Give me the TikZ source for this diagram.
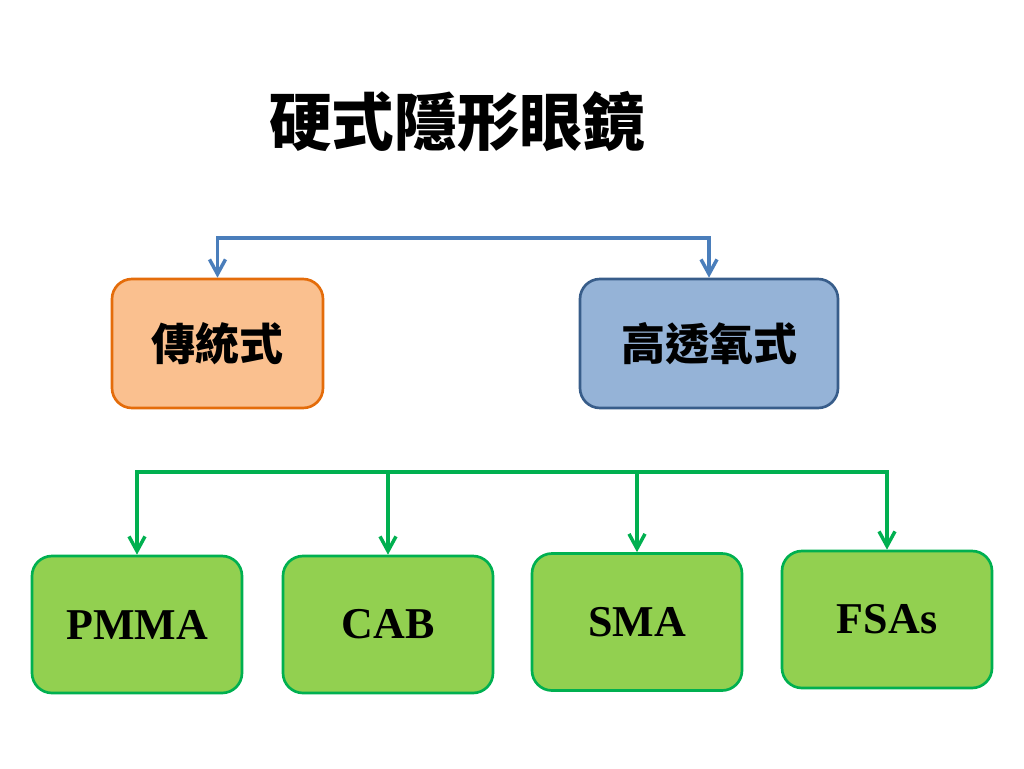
\documentclass[tikz,border=0pt]{standalone}
\usepackage{fontspec}
\setmainfont{Liberation Serif}
\newfontfamily\cjk{Noto Sans CJK TC}
\usetikzlibrary{arrows.meta}

\definecolor{linkblue}{RGB}{74,126,187}
\definecolor{tradfill}{RGB}{250,192,143}
\definecolor{tradline}{RGB}{228,108,10}
\definecolor{oxyfill}{RGB}{149,179,215}
\definecolor{oxyline}{RGB}{56,93,138}
\definecolor{matfill}{RGB}{146,208,80}
\definecolor{matline}{RGB}{0,176,80}

\tikzset{
  kindbox/.style={draw, rounded corners=15pt, line width=2pt, minimum height=96.75pt, inner sep=0pt, font=\cjk\fontsize{33}{33}\selectfont\bfseries},
  matbox/.style={draw=matline, fill=matfill, rounded corners=15pt, line width=2pt, minimum width=157.5pt, minimum height=102.75pt, inner sep=0pt, font=\fontsize{33}{33}\selectfont\bfseries},
  bluelink/.style={draw=linkblue, line width=2.6pt, -{Straight Barb[length=11pt, width=12pt, line width=2.6pt]}},
  greenlink/.style={draw=matline, line width=2.6pt, -{Straight Barb[length=11pt, width=12pt, line width=2.6pt]}}
}

\begin{document}
\begin{tikzpicture}[x=0.75pt,y=0.75pt,yscale=-1,xscale=1]
		%set diagram left start at 0, and has height of 768
		\useasboundingbox (0,0) rectangle (1024,768);
		
		% Text Node
		\node (title) at (457,122) [font=\cjk\fontsize{47}{47}\selectfont\bfseries] {硬式隱形眼鏡};
		
		%Shape: Rectangle [id:trad] 
		\node (trad) at (217.5,343.5) [kindbox, draw=tradline, fill=tradfill, minimum width=158.25pt] {\raisebox{-3pt}{傳統式}};
		%Shape: Rectangle [id:hioxy] 
		\node (hioxy) at (709,343.5) [kindbox, draw=oxyline, fill=oxyfill, minimum width=193.5pt] {\raisebox{-3pt}{高透氧式}};
		
		%Shape: Rectangle [id:pmma] 
		\node (pmma) at (137,624.5) [matbox] {\raisebox{-2pt}{PMMA}};
		%Shape: Rectangle [id:cab] 
		\node (cab) at (388,624.5) [matbox] {\raisebox{-2pt}{CAB}};
		%Shape: Rectangle [id:sma] 
		\node (sma) at (637,622) [matbox] {\raisebox{-2pt}{SMA}};
		%Shape: Rectangle [id:fsas] 
		\node (fsas) at (887,619.5) [matbox] {\raisebox{-2pt}{FSAs}};
		
		%Straight Lines [id:topbar] 
		\coordinate (topbar) at (463,238);
		\draw [bluelink] (topbar) -| (trad.north);
		\draw [bluelink] (topbar) -| (hioxy.north);
		
		%Straight Lines [id:botbar] 
		\coordinate (botbar) at (511,472);
		\draw [greenlink] (botbar) -| (pmma.north);
		\draw [greenlink] (botbar) -| (cab.north);
		\draw [greenlink] (botbar) -| (sma.north);
		\draw [greenlink] (botbar) -| (fsas.north);
	\end{tikzpicture}
\end{document}
